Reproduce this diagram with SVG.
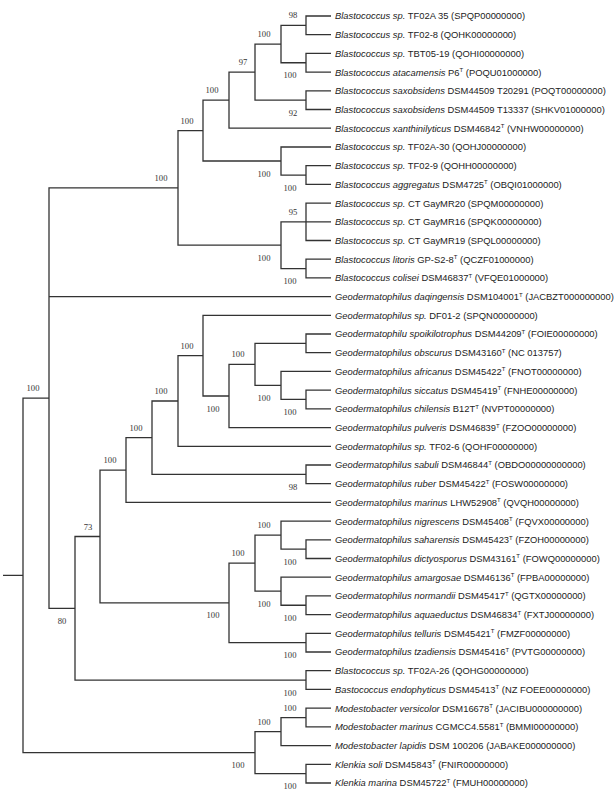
<svg xmlns="http://www.w3.org/2000/svg" width="616" height="794" viewBox="0 0 616 794">
<style>
.br{stroke:#333;stroke-width:1.3;fill:none}
.lf{font-family:"Liberation Sans",Arial,sans-serif;font-size:9.4px;fill:#222}
.it{font-style:italic}
.sp{font-size:6px}
.bs{font-family:"Liberation Serif","Times New Roman",serif;font-size:8.6px;fill:#333;text-anchor:middle}
</style>
<rect width="616" height="794" fill="#fff"/>
<g id="connectors" class="br">
<path d="M331 16 H306 V34.7 H331"/>
<path d="M331 53.4 H306 V72.1 H331"/>
<path d="M306 25.35 H281 V62.75 H306"/>
<path d="M331 90.8 H306 V109.5 H331"/>
<path d="M281 44.05 H255 V100.15 H306"/>
<path d="M255 72.1 H229 V128.2 H331"/>
<path d="M331 165.7 H306 V184.4 H331"/>
<path d="M331 147 H281 V175.05 H306"/>
<path d="M229 100.15 H203 V161 H281"/>
<path d="M331 203.1 H306 V240.5 H331 M306 221.8 H331"/>
<path d="M331 259.2 H306 V277.9 H331"/>
<path d="M306 221.8 H281 V268.55 H306"/>
<path d="M203 130.6 H178 V245.2 H281"/>
<path d="M331 334 H306 V352.7 H331"/>
<path d="M331 390.1 H306 V408.8 H331"/>
<path d="M331 371.4 H281 V399.45 H306"/>
<path d="M306 343.35 H255 V385.4 H281"/>
<path d="M255 364.4 H229 V427.6 H331"/>
<path d="M331 315.3 H203 V396 H229"/>
<path d="M203 355.65 H178 V446.3 H331"/>
<path d="M331 465 H306 V483.7 H331"/>
<path d="M178 401 H152 V474.35 H306"/>
<path d="M152 437.7 H126 V502.4 H331"/>
<path d="M331 539.8 H306 V558.5 H331"/>
<path d="M331 521.1 H281 V549.15 H306"/>
<path d="M331 595.9 H306 V614.6 H331"/>
<path d="M331 577.2 H281 V605.25 H306"/>
<path d="M281 535.1 H255 V591.2 H281"/>
<path d="M331 633.3 H306 V652 H331"/>
<path d="M255 563.15 H229 V642.65 H306"/>
<path d="M126 470.05 H100 V602.9 H229"/>
<path d="M331 670.7 H306 V689.4 H331"/>
<path d="M100 536.5 H75 V680.05 H306"/>
<path d="M178 187.9 H49 V608.3 H75 M49 296.6 H331"/>
<path d="M331 708.2 H306 V726.9 H331"/>
<path d="M306 717.55 H281 V745.6 H331"/>
<path d="M331 764.3 H306 V783 H331"/>
<path d="M281 731.6 H255 V773.65 H306"/>
<path d="M49 398.1 H23 V752.6 H255 M3 575.35 H23"/>
</g>
<g id="bootstrap">
<text class="bs" x="293" y="18.4">98</text>
<text class="bs" x="264" y="37">100</text>
<text class="bs" x="290" y="78.3">100</text>
<text class="bs" x="243" y="65">97</text>
<text class="bs" x="212" y="93">100</text>
<text class="bs" x="293" y="115.6">92</text>
<text class="bs" x="187" y="123.6">100</text>
<text class="bs" x="161" y="180.9">100</text>
<text class="bs" x="264" y="176.5">100</text>
<text class="bs" x="290" y="190.5">100</text>
<text class="bs" x="293" y="214.8">95</text>
<text class="bs" x="264" y="260.7">100</text>
<text class="bs" x="290" y="284">100</text>
<text class="bs" x="33" y="391">100</text>
<text class="bs" x="187" y="348.6">100</text>
<text class="bs" x="238" y="357.4">100</text>
<text class="bs" x="161" y="394">100</text>
<text class="bs" x="264" y="400.9">100</text>
<text class="bs" x="213" y="411.5">100</text>
<text class="bs" x="290" y="415">100</text>
<text class="bs" x="136" y="430.7">100</text>
<text class="bs" x="110" y="463">100</text>
<text class="bs" x="293" y="489.9">98</text>
<text class="bs" x="88" y="529.5">73</text>
<text class="bs" x="264" y="528.1">100</text>
<text class="bs" x="238" y="556.2">100</text>
<text class="bs" x="290" y="564.7">100</text>
<text class="bs" x="264" y="606.7">100</text>
<text class="bs" x="213" y="618.4">100</text>
<text class="bs" x="290" y="620.8">100</text>
<text class="bs" x="62" y="623.8">80</text>
<text class="bs" x="290" y="658.2">100</text>
<text class="bs" x="290" y="695.6">100</text>
<text class="bs" x="290" y="710.5">100</text>
<text class="bs" x="264" y="724.6">100</text>
<text class="bs" x="238" y="768.1">100</text>
<text class="bs" x="290" y="789.2">100</text>
</g>
<g id="leaf-0"><text class="lf" x="335" y="19.4"><tspan class="it">Blastococcus sp.</tspan> TF02A 35 (SPQP00000000)</text></g>
<g id="leaf-1"><text class="lf" x="335" y="38.1"><tspan class="it">Blastococcus sp.</tspan> TF02-8 (QOHK00000000)</text></g>
<g id="leaf-2"><text class="lf" x="335" y="56.8"><tspan class="it">Blastococcus sp.</tspan> TBT05-19 (QOHI00000000)</text></g>
<g id="leaf-3"><text class="lf" x="335" y="75.5"><tspan class="it">Blastococcus atacamensis</tspan> P6<tspan class="sp" dy="-3.5">T</tspan><tspan dy="3.5"> (POQU01000000)</tspan></text></g>
<g id="leaf-4"><text class="lf" x="335" y="94.2"><tspan class="it">Blastococcus saxobsidens</tspan> DSM44509 T20291 (POQT00000000)</text></g>
<g id="leaf-5"><text class="lf" x="335" y="112.9"><tspan class="it">Blastococcus saxobsidens</tspan> DSM44509 T13337 (SHKV01000000)</text></g>
<g id="leaf-6"><text class="lf" x="335" y="131.6"><tspan class="it">Blastococcus xanthinilyticus</tspan> DSM46842<tspan class="sp" dy="-3.5">T</tspan><tspan dy="3.5"> (VNHW00000000)</tspan></text></g>
<g id="leaf-7"><text class="lf" x="335" y="150.4"><tspan class="it">Blastococcus sp.</tspan> TF02A-30 (QOHJ00000000)</text></g>
<g id="leaf-8"><text class="lf" x="335" y="169.1"><tspan class="it">Blastococcus sp.</tspan> TF02-9 (QOHH00000000)</text></g>
<g id="leaf-9"><text class="lf" x="335" y="187.8"><tspan class="it">Blastococcus aggregatus</tspan> DSM4725<tspan class="sp" dy="-3.5">T</tspan><tspan dy="3.5"> (OBQI01000000)</tspan></text></g>
<g id="leaf-10"><text class="lf" x="335" y="206.5"><tspan class="it">Blastococcus sp.</tspan> CT GayMR20 (SPQM00000000)</text></g>
<g id="leaf-11"><text class="lf" x="335" y="225.2"><tspan class="it">Blastococcus sp.</tspan> CT GayMR16 (SPQK00000000)</text></g>
<g id="leaf-12"><text class="lf" x="335" y="243.9"><tspan class="it">Blastococcus sp.</tspan> CT GayMR19 (SPQL00000000)</text></g>
<g id="leaf-13"><text class="lf" x="335" y="262.6"><tspan class="it">Blastococcus litoris</tspan> GP-S2-8<tspan class="sp" dy="-3.5">T</tspan><tspan dy="3.5"> (QCZF01000000)</tspan></text></g>
<g id="leaf-14"><text class="lf" x="335" y="281.3"><tspan class="it">Blastococcus colisei</tspan> DSM46837<tspan class="sp" dy="-3.5">T</tspan><tspan dy="3.5"> (VFQE01000000)</tspan></text></g>
<g id="leaf-15"><text class="lf" x="335" y="300"><tspan class="it">Geodermatophilus daqingensis</tspan> DSM104001<tspan class="sp" dy="-3.5">T</tspan><tspan dy="3.5"> (JACBZT000000000)</tspan></text></g>
<g id="leaf-16"><text class="lf" x="335" y="318.7"><tspan class="it">Geodermatophilus sp.</tspan> DF01-2 (SPQN00000000)</text></g>
<g id="leaf-17"><text class="lf" x="335" y="337.4"><tspan class="it">Geodermatophilu spoikilotrophus</tspan> DSM44209<tspan class="sp" dy="-3.5">T</tspan><tspan dy="3.5"> (FOIE00000000)</tspan></text></g>
<g id="leaf-18"><text class="lf" x="335" y="356.1"><tspan class="it">Geodermatophilus obscurus</tspan> DSM43160<tspan class="sp" dy="-3.5">T</tspan><tspan dy="3.5"> (NC 013757)</tspan></text></g>
<g id="leaf-19"><text class="lf" x="335" y="374.8"><tspan class="it">Geodermatophilus africanus</tspan> DSM45422<tspan class="sp" dy="-3.5">T</tspan><tspan dy="3.5"> (FNOT00000000)</tspan></text></g>
<g id="leaf-20"><text class="lf" x="335" y="393.5"><tspan class="it">Geodermatophilus siccatus</tspan> DSM45419<tspan class="sp" dy="-3.5">T</tspan><tspan dy="3.5"> (FNHE00000000)</tspan></text></g>
<g id="leaf-21"><text class="lf" x="335" y="412.2"><tspan class="it">Geodermatophilus chilensis</tspan> B12T<tspan class="sp" dy="-3.5">T</tspan><tspan dy="3.5"> (NVPT00000000)</tspan></text></g>
<g id="leaf-22"><text class="lf" x="335" y="431"><tspan class="it">Geodermatophilus pulveris</tspan> DSM46839<tspan class="sp" dy="-3.5">T</tspan><tspan dy="3.5"> (FZOO00000000)</tspan></text></g>
<g id="leaf-23"><text class="lf" x="335" y="449.7"><tspan class="it">Geodermatophilus sp.</tspan> TF02-6 (QOHF00000000)</text></g>
<g id="leaf-24"><text class="lf" x="335" y="468.4"><tspan class="it">Geodermatophilus sabuli</tspan> DSM46844<tspan class="sp" dy="-3.5">T</tspan><tspan dy="3.5"> (OBDO00000000000)</tspan></text></g>
<g id="leaf-25"><text class="lf" x="335" y="487.1"><tspan class="it">Geodermatophilus ruber</tspan> DSM45422<tspan class="sp" dy="-3.5">T</tspan><tspan dy="3.5"> (FOSW00000000)</tspan></text></g>
<g id="leaf-26"><text class="lf" x="335" y="505.8"><tspan class="it">Geodermatophilus marinus</tspan> LHW52908<tspan class="sp" dy="-3.5">T</tspan><tspan dy="3.5"> (QVQH00000000)</tspan></text></g>
<g id="leaf-27"><text class="lf" x="335" y="524.5"><tspan class="it">Geodermatophilus nigrescens</tspan> DSM45408<tspan class="sp" dy="-3.5">T</tspan><tspan dy="3.5"> (FQVX00000000)</tspan></text></g>
<g id="leaf-28"><text class="lf" x="335" y="543.2"><tspan class="it">Geodermatophilus saharensis</tspan> DSM45423<tspan class="sp" dy="-3.5">T</tspan><tspan dy="3.5"> (FZOH00000000)</tspan></text></g>
<g id="leaf-29"><text class="lf" x="335" y="561.9"><tspan class="it">Geodermatophilus dictyosporus</tspan> DSM43161<tspan class="sp" dy="-3.5">T</tspan><tspan dy="3.5"> (FOWQ00000000)</tspan></text></g>
<g id="leaf-30"><text class="lf" x="335" y="580.6"><tspan class="it">Geodermatophilus amargosae</tspan> DSM46136<tspan class="sp" dy="-3.5">T</tspan><tspan dy="3.5"> (FPBA00000000)</tspan></text></g>
<g id="leaf-31"><text class="lf" x="335" y="599.3"><tspan class="it">Geodermatophilus normandii</tspan> DSM45417<tspan class="sp" dy="-3.5">T</tspan><tspan dy="3.5"> (QGTX00000000)</tspan></text></g>
<g id="leaf-32"><text class="lf" x="335" y="618"><tspan class="it">Geodermatophilus aquaeductus</tspan> DSM46834<tspan class="sp" dy="-3.5">T</tspan><tspan dy="3.5"> (FXTJ00000000)</tspan></text></g>
<g id="leaf-33"><text class="lf" x="335" y="636.7"><tspan class="it">Geodermatophilus telluris</tspan> DSM45421<tspan class="sp" dy="-3.5">T</tspan><tspan dy="3.5"> (FMZF00000000)</tspan></text></g>
<g id="leaf-34"><text class="lf" x="335" y="655.4"><tspan class="it">Geodermatophilus tzadiensis</tspan> DSM45416<tspan class="sp" dy="-3.5">T</tspan><tspan dy="3.5"> (PVTG00000000)</tspan></text></g>
<g id="leaf-35"><text class="lf" x="335" y="674.1"><tspan class="it">Blastococcus sp.</tspan> TF02A-26 (QOHG00000000)</text></g>
<g id="leaf-36"><text class="lf" x="335" y="692.8"><tspan class="it">Bastococcus endophyticus</tspan> DSM45413<tspan class="sp" dy="-3.5">T</tspan><tspan dy="3.5"> (NZ FOEE00000000)</tspan></text></g>
<g id="leaf-37"><text class="lf" x="335" y="711.6"><tspan class="it">Modestobacter versicolor</tspan> DSM16678<tspan class="sp" dy="-3.5">T</tspan><tspan dy="3.5"> (JACIBU000000000)</tspan></text></g>
<g id="leaf-38"><text class="lf" x="335" y="730.3"><tspan class="it">Modestobacter marinus</tspan> CGMCC4.5581<tspan class="sp" dy="-3.5">T</tspan><tspan dy="3.5"> (BMMI00000000)</tspan></text></g>
<g id="leaf-39"><text class="lf" x="335" y="749"><tspan class="it">Modestobacter lapidis</tspan> DSM 100206 (JABAKE000000000)</text></g>
<g id="leaf-40"><text class="lf" x="335" y="767.7"><tspan class="it">Klenkia soli</tspan> DSM45843<tspan class="sp" dy="-3.5">T</tspan><tspan dy="3.5"> (FNIR00000000)</tspan></text></g>
<g id="leaf-41"><text class="lf" x="335" y="786.4"><tspan class="it">Klenkia marina</tspan> DSM45722<tspan class="sp" dy="-3.5">T</tspan><tspan dy="3.5"> (FMUH00000000)</tspan></text></g>
</svg>
